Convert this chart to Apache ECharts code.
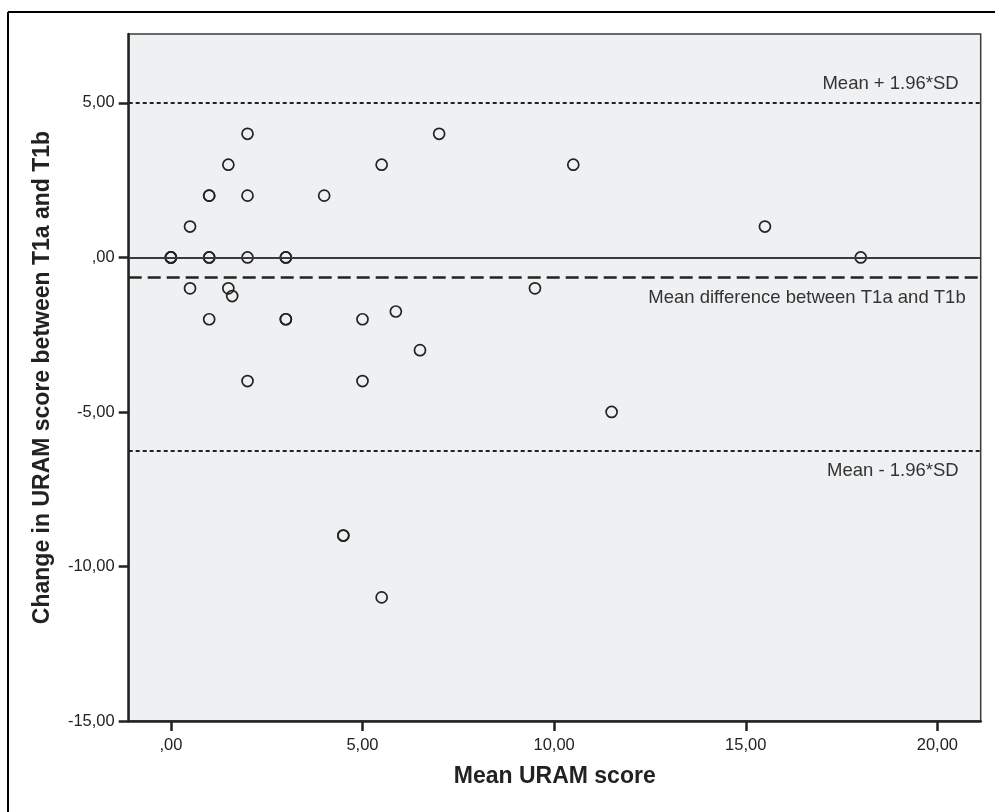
<!DOCTYPE html>
<html>
<head>
<meta charset="utf-8">
<script src="https://cdn.jsdelivr.net/npm/echarts@6/dist/echarts.min.js"></script>
<style>
html,body{margin:0;padding:0;background:#fff;}
#chart{width:995px;height:812px;}
</style>
</head>
<body>
<div id="chart"></div>
<script>
// Data (Bland-Altman plot)
var meanScore = [0, 0, 0, 0.5, 0.5, 1, 1, 1, 1, 1, 1.5, 1.5, 1.6, 2, 2, 2, 2, 3, 3, 3, 3, 4, 4.5, 4.5, 5, 5, 5.5, 5.5, 5.87, 6.5, 7, 9.5, 10.5, 11.5, 15.5, 18];
var changeScore = [0, 0, 0, 1, -1, 2, 2, 0, 0, -2, 3, -1, -1.25, 4, 2, 0, -4, 0, 0, -2, -2, 2, -9, -9, -2, -4, 3, -11, -1.75, -3, 4, -1, 3, -5, 1, 0];
var xTicks = [0, 5, 10, 15, 20];
var yTicks = [-15, -10, -5, 0, 5];
var upperLimit = 5.01;
var meanDiff = -0.63;
var lowerLimit = -6.26;
var zeroLine = 0;
var labelUpper = 'Mean + 1.96*SD';
var labelMean = 'Mean difference between T1a and T1b';
var labelLower = 'Mean - 1.96*SD';
var xTitle = 'Mean URAM score';
var yTitle = 'Change in URAM score between T1a and T1b';

function fmt(v) {
  var s = Math.abs(v).toFixed(2).replace('.', ',');
  if (s.charAt(0) === '0') s = s.slice(1);
  return (v < 0 ? '-' : '') + s;
}

var points = meanScore.map(function (x, i) { return [x, changeScore[i]]; });
var FONT = '"Liberation Sans", Arial, sans-serif';
var TXT = '#222';

var chart = echarts.init(document.getElementById('chart'), null, {renderer: 'canvas'});
var option = {
  animation: false,
  backgroundColor: '#ffffff',
  grid: {
    left: 128.7, right: 14.3, top: 34, bottom: 91,
    show: true, backgroundColor: '#eff0f2', borderColor: '#3a3a3a', borderWidth: 1.5
  },
  xAxis: {
    type: 'value', min: -1.1, max: 21.13,
    name: xTitle, nameLocation: 'middle', nameGap: 44,
    nameTextStyle: {fontFamily: FONT, fontSize: 23, fontWeight: 'bold', color: TXT},
    axisLine: {show: true, onZero: false, lineStyle: {color: '#222', width: 2.5}},
    axisTick: {show: true, length: 10, customValues: xTicks, lineStyle: {color: '#222', width: 2.5}},
    axisLabel: {customValues: xTicks, formatter: fmt, margin: 16, fontFamily: FONT, fontSize: 16.5, color: TXT},
    splitLine: {show: false}
  },
  yAxis: {
    type: 'value', min: -15, max: 7.23,
    name: yTitle, nameLocation: 'middle', nameGap: 75, nameRotate: 90,
    nameTextStyle: {fontFamily: FONT, fontSize: 23, fontWeight: 'bold', color: TXT},
    axisLine: {show: true, onZero: false, lineStyle: {color: '#222', width: 2.5}},
    axisTick: {show: true, length: 10, customValues: yTicks, lineStyle: {color: '#222', width: 2.5}},
    axisLabel: {customValues: yTicks, formatter: fmt, margin: 14, fontFamily: FONT, fontSize: 16.5, color: TXT},
    splitLine: {show: false}
  },
  series: [
    {
      type: 'scatter', data: [], z: 1, silent: true,
      markLine: {
        silent: true, symbol: ['none', 'none'], animation: false,
        data: [
          {yAxis: zeroLine, lineStyle: {type: 'solid', color: '#3a3a3a', width: 1.8}, label: {show: false}},
          {yAxis: upperLimit, lineStyle: {type: [4, 3], color: '#222', width: 2},
            label: {show: true, formatter: labelUpper, position: 'insideEndTop', distance: [22, 9]}},
          {yAxis: meanDiff, lineStyle: {type: [13, 6], color: '#222', width: 2.5},
            label: {show: true, formatter: labelMean, position: 'insideEndBottom', distance: [15, 11]}},
          {yAxis: lowerLimit, lineStyle: {type: [4, 3], color: '#222', width: 2},
            label: {show: true, formatter: labelLower, position: 'insideEndBottom', distance: [22, 11]}}
        ],
        label: {fontFamily: FONT, fontSize: 18.5, color: '#333'}
      }
    },
    {
      type: 'scatter', z: 3, data: points,
      symbol: 'circle', symbolSize: 11,
      itemStyle: {color: 'rgba(0,0,0,0)', borderColor: '#222', borderWidth: 1.7, opacity: 1}
    }
  ],
  graphic: [
    {type: 'line', shape: {x1: 8, y1: 12, x2: 995, y2: 12}, style: {stroke: '#000', lineWidth: 2}},
    {type: 'line', shape: {x1: 8, y1: 12, x2: 8, y2: 812}, style: {stroke: '#000', lineWidth: 2}}
  ]
};
chart.setOption(option);
</script>
</body>
</html>
